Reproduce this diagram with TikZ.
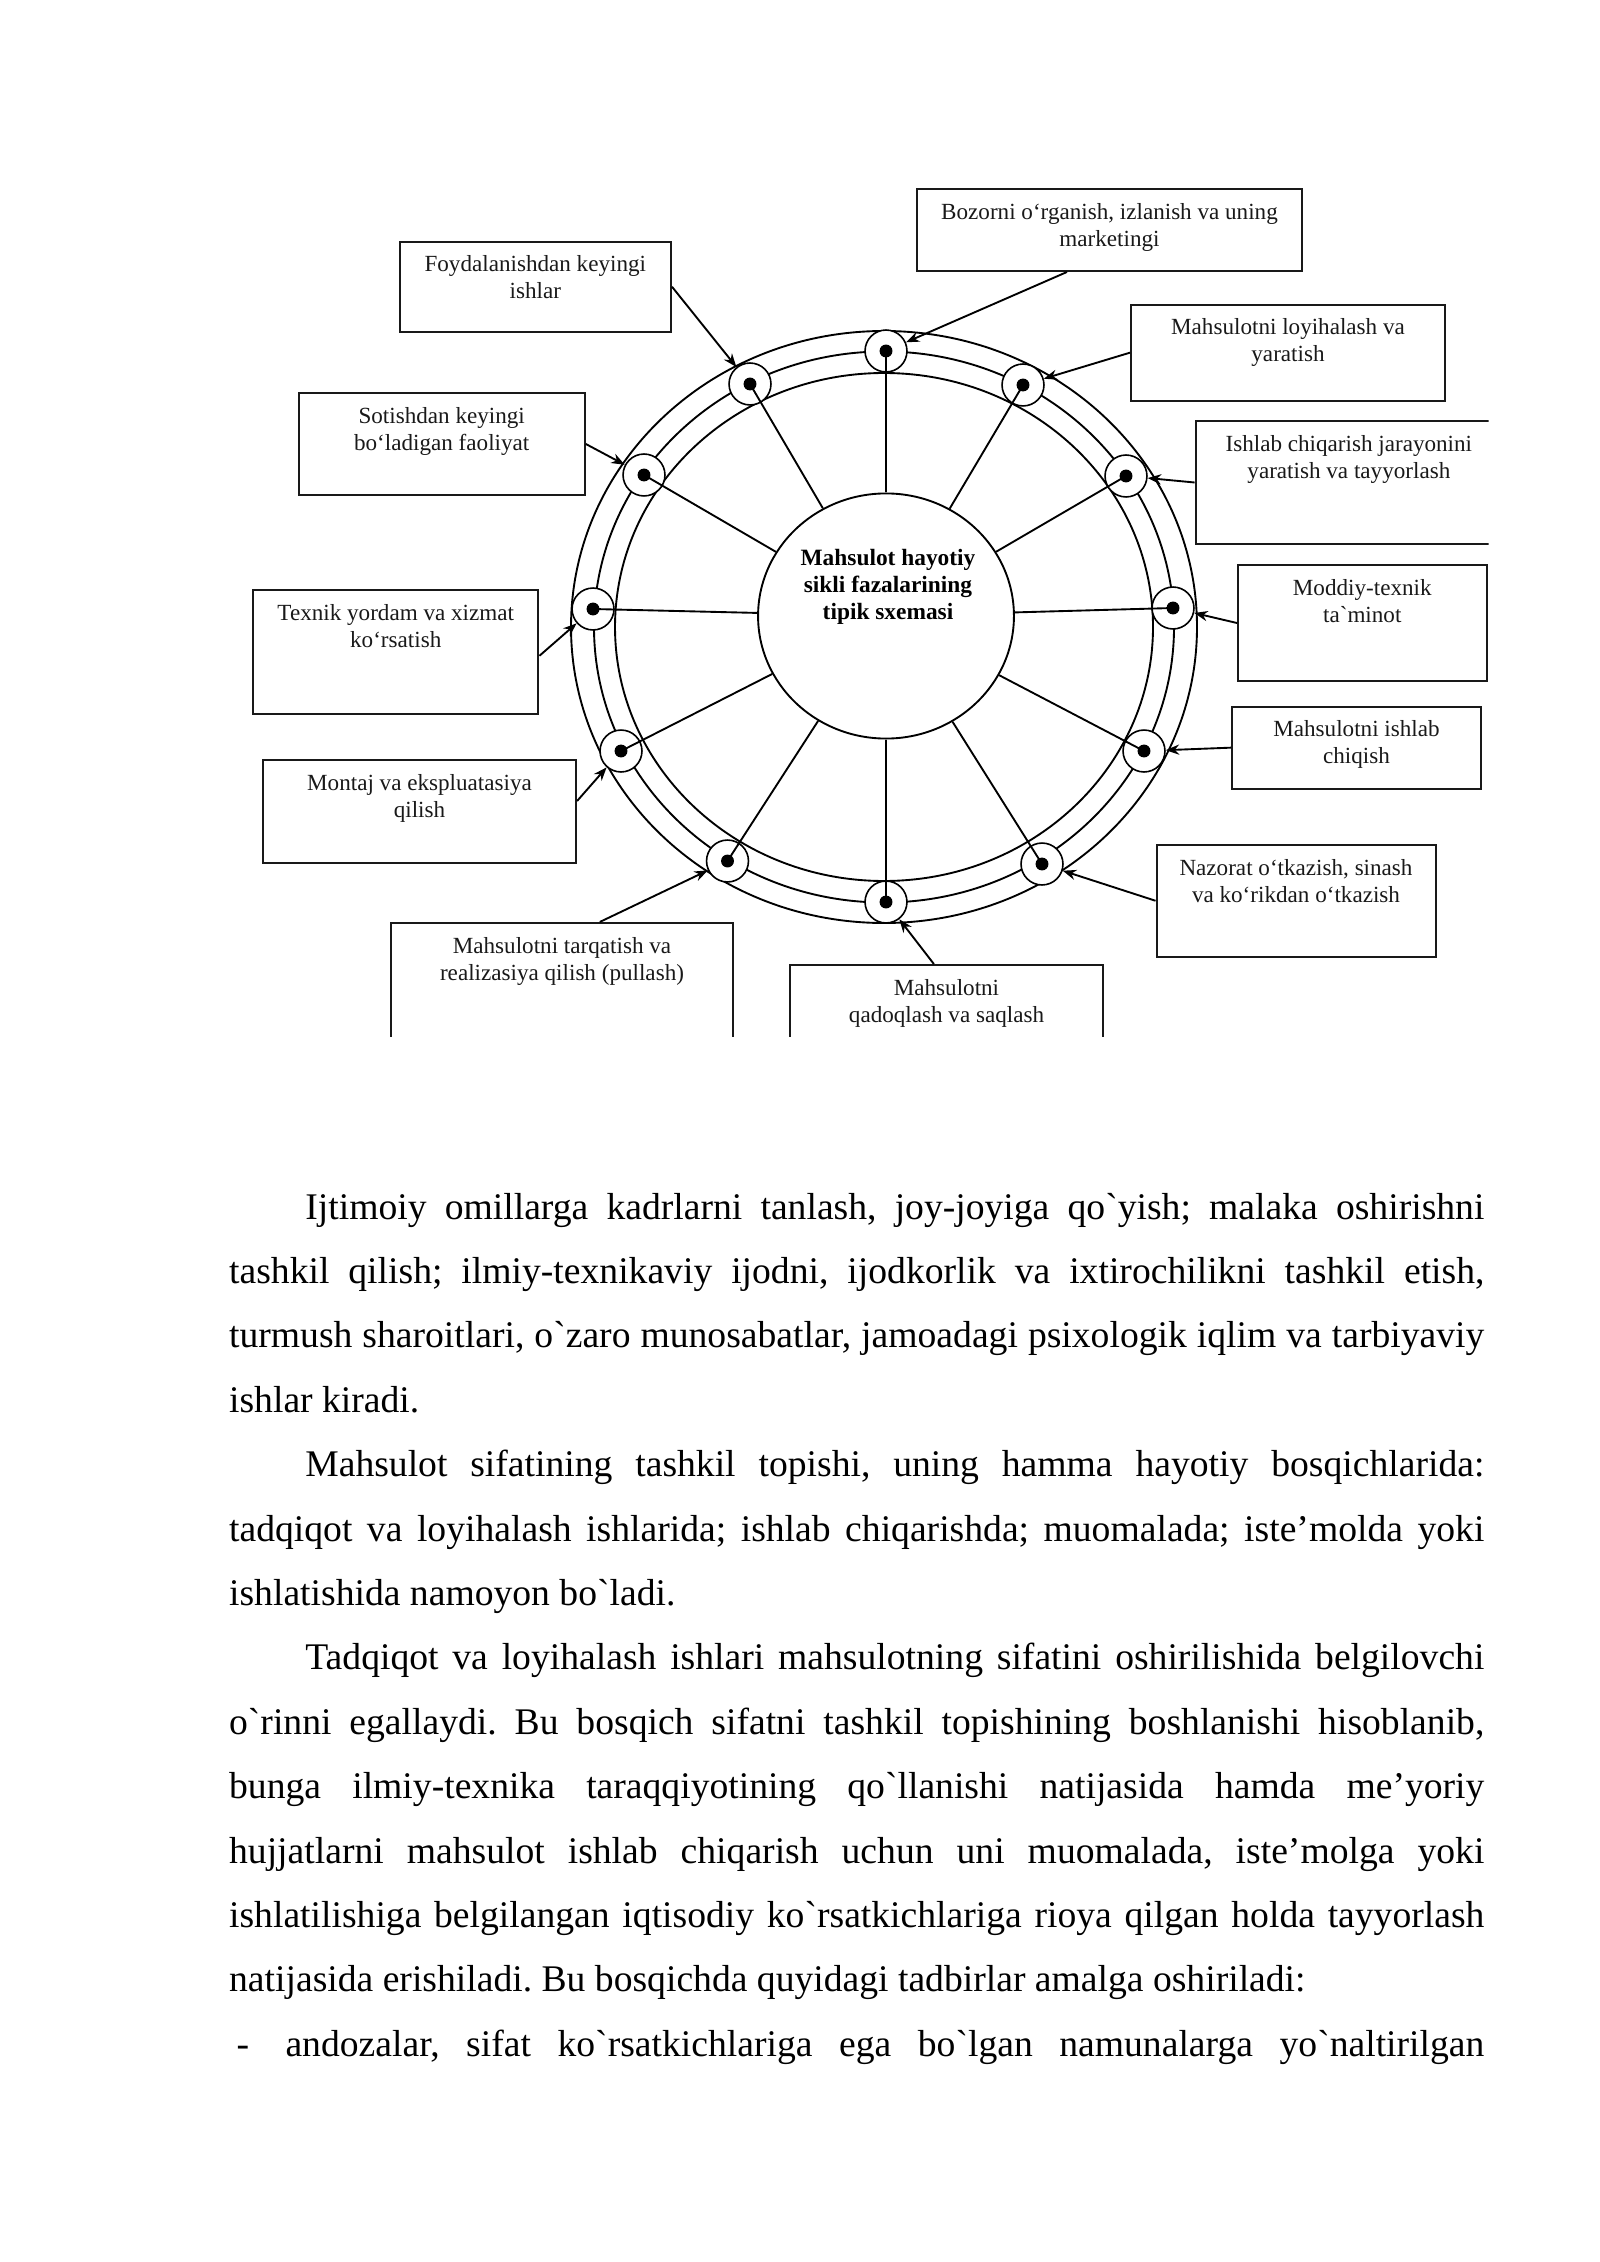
\documentclass[tikz,border=0pt]{standalone}
\usepackage{fontspec}
\newfontfamily\tnr{Liberation Serif}
\usetikzlibrary{shapes.geometric,arrows.meta,calc}
\begin{document}
\begin{tikzpicture}[x=0.37205pt,y=-0.37205pt,
  box/.style={draw=black!90, line width=0.75pt, rectangle, inner sep=0pt},
  lbl/.style={font=\tnr\fontsize{8.6pt}{10pt}\selectfont, align=center, inner sep=0pt, anchor=north, text=black!90},
  ctext/.style={font=\tnr\bfseries\fontsize{8.7pt}{10.2pt}\selectfont, align=center, inner sep=0pt, anchor=north},
  ringnode/.style={circle, draw=black, line width=0.6pt, fill=white, minimum size=15.6pt, inner sep=0pt,
     path picture={\fill[black] (path picture bounding box.center) circle[radius=2.4pt];}},
  ring/.style={draw=black, line width=0.7pt},
  spoke/.style={draw=black, line width=0.7pt},
  arr/.style={draw=black, line width=0.7pt, -{Stealth[length=5pt,width=3.8pt]}},
  txt/.style={font=\tnr\fontsize{14pt}{16pt}\selectfont\frenchspacing, inner sep=0pt, anchor=base west},
]
\fill[white] (0,0) rectangle (1600,2262);
\useasboundingbox (0,0) rectangle (1600,2262);

\begin{scope}
\clip (0,0) rectangle (1488.5,1036);
% rings
\draw[ring] (884,627) ellipse [x radius=116.45pt, y radius=110.13pt];
\draw[ring] (884,627) ellipse [x radius=107.9pt, y radius=102.5pt];
\draw[ring] (884,627) ellipse [x radius=100.08pt, y radius=94.5pt];
% centre
\node[ellipse, draw=black, line width=0.7pt, fill=white, minimum width=95.2pt, minimum height=91.2pt, inner sep=0pt] (cc) at (886,616) {};
\node[ctext] (cct) at (888,545.3) {\strut Mahsulot hayotiy\\sikli fazalarining\\tipik sxemasi};
% ring nodes
\node[ringnode] (n1) at (886,351) {};
\node[ringnode] (n2) at (1023,385) {};
\node[ringnode] (n3) at (1126,476) {};
\node[ringnode] (n4) at (1173,608) {};
\node[ringnode] (n5) at (1144,751) {};
\node[ringnode] (n6) at (1042,864) {};
\node[ringnode] (n7) at (886,902) {};
\node[ringnode] (n8) at (727.5,861) {};
\node[ringnode] (n9) at (621,751) {};
\node[ringnode] (n10) at (593,609) {};
\node[ringnode] (n11) at (644,475) {};
\node[ringnode] (n12) at (750,384) {};
% spokes
\foreach \i in {1,...,12} {\draw[spoke] (n\i.center) -- (cc);}
% boxes
\node[box, minimum width=101.0pt, minimum height=33.6pt] (b1) at (535.3,286.8) {};
\node[box, minimum width=106.5pt, minimum height=37.95pt] (b2) at (441.7,444) {};
\node[box, minimum width=106.2pt, minimum height=46.1pt] (b3) at (395.75,652) {};
\node[box, minimum width=116.5pt, minimum height=38.3pt] (b4) at (419.5,811.5) {};
\node[box, minimum width=127.2pt, minimum height=51pt] (b5) at (562,991.5) {};
\node[box, minimum width=116.5pt, minimum height=35.3pt] (b6) at (946.5,1012.5) {};
\node[box, minimum width=103.8pt, minimum height=41.5pt] (b7) at (1296,900.75) {};
\node[box, minimum width=92.6pt, minimum height=30.5pt] (b8) at (1356.5,747.65) {};
\node[box, minimum width=92.5pt, minimum height=43.2pt] (b9) at (1362.25,623) {};
\node[box, minimum width=114pt, minimum height=45.8pt] (b10) at (1348.85,482.5) {};
\node[box, minimum width=116.8pt, minimum height=35.7pt] (b11) at (1288,352.65) {};
\node[box, minimum width=143.2pt, minimum height=30.5pt] (b12) at (1109.5,230) {};
% labels
\node[lbl] (t1) at ([yshift=-4.46pt]b1.north) {\strut Foydalanishdan keyingi\\ishlar};
\node[lbl] (t2) at ([yshift=-4.46pt]b2.north) {\strut Sotishdan keyingi\\bo‘ladigan faoliyat};
\node[lbl] (t3) at ([yshift=-4.46pt]b3.north) {\strut Texnik yordam va xizmat\\ko‘rsatish};
\node[lbl] (t4) at ([yshift=-4.46pt]b4.north) {\strut Montaj va ekspluatasiya\\qilish};
\node[lbl] (t5) at ([yshift=-4.46pt]b5.north) {\strut Mahsulotni tarqatish va\\realizasiya qilish (pullash)};
\node[lbl] (t6) at ([yshift=-4.46pt]b6.north) {\strut Mahsulotni\\qadoqlash va saqlash};
\node[lbl] (t7) at ([yshift=-4.46pt]b7.north) {\strut Nazorat o‘tkazish, sinash\\va ko‘rikdan o‘tkazish};
\node[lbl] (t8) at ([yshift=-4.46pt]b8.north) {\strut Mahsulotni ishlab\\chiqish};
\node[lbl] (t9) at ([yshift=-4.46pt]b9.north) {\strut Moddiy-texnik\\ta`minot};
\node[lbl] (t10) at ([yshift=-4.46pt]b10.north) {\strut Ishlab chiqarish jarayonini\\yaratish va tayyorlash};
\node[lbl] (t11) at ([yshift=-4.46pt]b11.north) {\strut Mahsulotni loyihalash va\\yaratish};
\node[lbl] (t12) at ([yshift=-4.46pt]b12.north) {\strut Bozorni o‘rganish, izlanish va uning\\marketingi};
% arrows
\draw[arr] ($(b12.south west)!0.39!(b12.south east)$) -- (n1);
\draw[arr] (b11.west) -- (n2);
\draw[arr] (b10.west) -- (n3);
\draw[arr] (b9.west) -- (n4);
\draw[arr] (b8.west) -- (n5);
\draw[arr] (b7.west) -- (n6);
\draw[arr] ($(b6.north west)!0.46!(b6.north east)$) -- (n7);
\draw[arr] ($(b5.north west)!0.61!(b5.north east)$) -- (n8);
\draw[arr] ($(b4.north east)!0.40!(b4.south east)$) -- (n9);
\draw[arr] ($(b3.north east)!0.53!(b3.south east)$) -- (n10);
\draw[arr] (b2.east) -- (n11);
\draw[arr] (b1.east) -- (n12);
\end{scope}

% body text
\node[txt] (l1) at (304.8,1219) {\makebox[438.65pt][s]{Ijtimoiy omillarga kadrlarni tanlash, joy-joyiga qo`yish; malaka oshirishni}};
\node[txt] (l2) at (228.6,1283.4) {\makebox[467pt][s]{tashkil qilish; ilmiy-texnikaviy ijodni, ijodkorlik va ixtirochilikni tashkil etish,}};
\node[txt] (l3) at (228.6,1347.8) {\makebox[467pt][s]{turmush sharoitlari, o`zaro munosabatlar, jamoadagi psixologik iqlim va tarbiyaviy}};
\node[txt] (l4) at (228.6,1412.2) {ishlar kiradi.};
\node[txt] (l5) at (304.8,1476.6) {\makebox[438.65pt][s]{Mahsulot sifatining tashkil topishi, uning hamma hayotiy bosqichlarida:}};
\node[txt] (l6) at (228.6,1541) {\makebox[467pt][s]{tadqiqot va loyihalash ishlarida; ishlab chiqarishda; muomalada; iste’molda yoki}};
\node[txt] (l7) at (228.6,1605.4) {ishlatishida namoyon bo`ladi.};
\node[txt] (l8) at (304.8,1669.8) {\makebox[438.65pt][s]{Tadqiqot va loyihalash ishlari mahsulotning sifatini oshirilishida belgilovchi}};
\node[txt] (l9) at (228.6,1734.2) {\makebox[467pt][s]{o`rinni egallaydi. Bu bosqich sifatni tashkil topishining boshlanishi hisoblanib,}};
\node[txt] (l10) at (228.6,1798.6) {\makebox[467pt][s]{bunga ilmiy-texnika taraqqiyotining qo`llanishi natijasida hamda me’yoriy}};
\node[txt] (l11) at (228.6,1863) {\makebox[467pt][s]{hujjatlarni mahsulot ishlab chiqarish uchun uni muomalada, iste’molga yoki}};
\node[txt] (l12) at (228.6,1927.4) {\makebox[467pt][s]{ishlatilishiga belgilangan iqtisodiy ko`rsatkichlariga rioya qilgan holda tayyorlash}};
\node[txt] (l13) at (228.6,1991.8) {natijasida erishiladi. Bu bosqichda quyidagi tadbirlar amalga oshiriladi:};
\node[txt] (dash) at (236,2056.2) {-};
\node[txt] (l14) at (285,2056.2) {\makebox[446pt][s]{andozalar, sifat ko`rsatkichlariga ega bo`lgan namunalarga yo`naltirilgan}};
\end{tikzpicture}
\end{document}
